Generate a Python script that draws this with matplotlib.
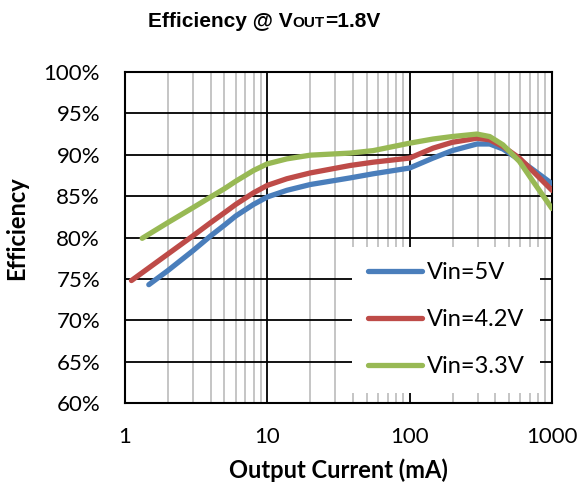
import matplotlib
matplotlib.use("Agg")
import matplotlib.pyplot as plt
from matplotlib.ticker import FixedLocator, NullFormatter

# ---- data ----
x_5v = [1.47, 2, 3, 4, 5, 6, 8, 10, 13.7, 20, 38.1, 55.4, 100, 146, 199, 297, 365, 452, 590, 735, 1000]
eff_5v = [74.3, 76.0, 78.4, 80.2, 81.5, 82.6, 84.0, 84.9, 85.7, 86.4, 87.2, 87.7, 88.4, 89.6, 90.5, 91.3, 91.3, 90.7, 89.4, 88.2, 86.5]

x_42v = [1.11, 2, 3, 4, 5, 6, 8, 10, 13.7, 20, 38.1, 55.4, 100, 146, 199, 297, 365, 452, 590, 735, 1000]
eff_42v = [74.8, 78.0, 80.2, 81.8, 83.0, 84.0, 85.4, 86.3, 87.1, 87.8, 88.7, 89.1, 89.6, 90.8, 91.5, 92.0, 91.8, 91.0, 89.6, 88.0, 85.7]

x_33v = [1.32, 2, 3, 4, 5, 6, 8, 10, 13.7, 20, 38.1, 55.4, 100, 146, 199, 297, 365, 452, 590, 735, 1000]
eff_33v = [79.9, 81.8, 83.6, 84.9, 85.9, 86.8, 88.1, 88.9, 89.5, 89.95, 90.2, 90.5, 91.4, 91.9, 92.2, 92.5, 92.2, 91.2, 89.2, 86.8, 83.5]

labels = ["Vin=5V", "Vin=4.2V", "Vin=3.3V"]
colors = ["#4A7EBB", "#BE4B48", "#98B954"]

x_ticks = [1, 10, 100, 1000]
x_ticklabels = ["1", "10", "100", "1000"]
y_ticks = [60, 65, 70, 75, 80, 85, 90, 95, 100]
y_ticklabels = [f"{v}%" for v in y_ticks]

title_parts = ["Efficiency @ V", "OUT", "=1.8V"]

W, H = 581, 487
fig = plt.figure(figsize=(W / 100, H / 100), dpi=100)
ax = fig.add_axes([125 / W, 1 - 403 / H, (552 - 125) / W, (403 - 72) / H])

font = 'Lato'

ax.set_xscale('log')
ax.set_xlim(1, 1000)
ax.set_ylim(60, 100)

minor = [m * 10 ** d for d in range(0, 3) for m in range(2, 10)]
ax.xaxis.set_major_locator(FixedLocator(x_ticks))
ax.xaxis.set_minor_locator(FixedLocator(minor))
ax.xaxis.set_minor_formatter(NullFormatter())
ax.set_xticks(x_ticks, x_ticklabels)
ax.set_yticks(y_ticks, y_ticklabels)

ax.grid(which='minor', axis='x', color='#c0c0c0', lw=1.3, zorder=0)
ax.grid(which='major', axis='both', color='black', lw=1.3, zorder=1)
ax.set_axisbelow(True)

ax.tick_params(which='both', length=0)
ax.tick_params(axis='y', pad=18, labelsize=16)
ax.tick_params(axis='x', pad=17, labelsize=16)
for lab in ax.get_xticklabels() + ax.get_yticklabels():
    lab.set_fontfamily(font)

for sp in ax.spines.values():
    sp.set_linewidth(1.5)
    sp.set_color('black')

series = [(x_5v, eff_5v), (x_42v, eff_42v), (x_33v, eff_33v)]
for (xs, ys), lab, c in zip(series, labels, colors):
    ax.plot(xs, ys, color=c, lw=3.8, label=lab, solid_capstyle='round',
            solid_joinstyle='round', zorder=3)

leg = ax.legend(loc='upper left', bbox_to_anchor=(0.532, 0.471),
                borderaxespad=0, frameon=True, fancybox=False,
                handlelength=2.3, handletextpad=0.2, labelspacing=1.1,
                borderpad=0.65, prop={'family': font, 'size': 17})
leg.get_frame().set_edgecolor('none')
leg.get_frame().set_facecolor('white')
leg.get_frame().set_alpha(1)
leg.set_zorder(5)

ax.set_xlabel('Output Current (mA)', fontfamily=font, fontweight='bold', fontsize=17)
ax.xaxis.label.set_va('center')
ax.xaxis.set_label_coords(0.5, -(470 - 403) / 331)
ax.set_ylabel('Efficiency', fontfamily=font, fontweight='bold', fontsize=17)
ax.yaxis.label.set_va('center')
ax.yaxis.set_label_coords((17 - 125) / 427, (403 - 228) / 331)

# title with small "OUT" subscript-like part
renderer = fig.canvas.get_renderer()
x0 = 148
base_y = 1 - 27 / H
sizes = [15, 11, 15]
xpos = x0
for part, sz in zip(title_parts, sizes):
    t = fig.text(xpos / W, base_y, part, ha='left', va='baseline',
                 fontsize=sz, fontweight='bold', fontfamily='Liberation Sans')
    xpos += t.get_window_extent(renderer).width

fig.savefig('out.png', dpi=100)
